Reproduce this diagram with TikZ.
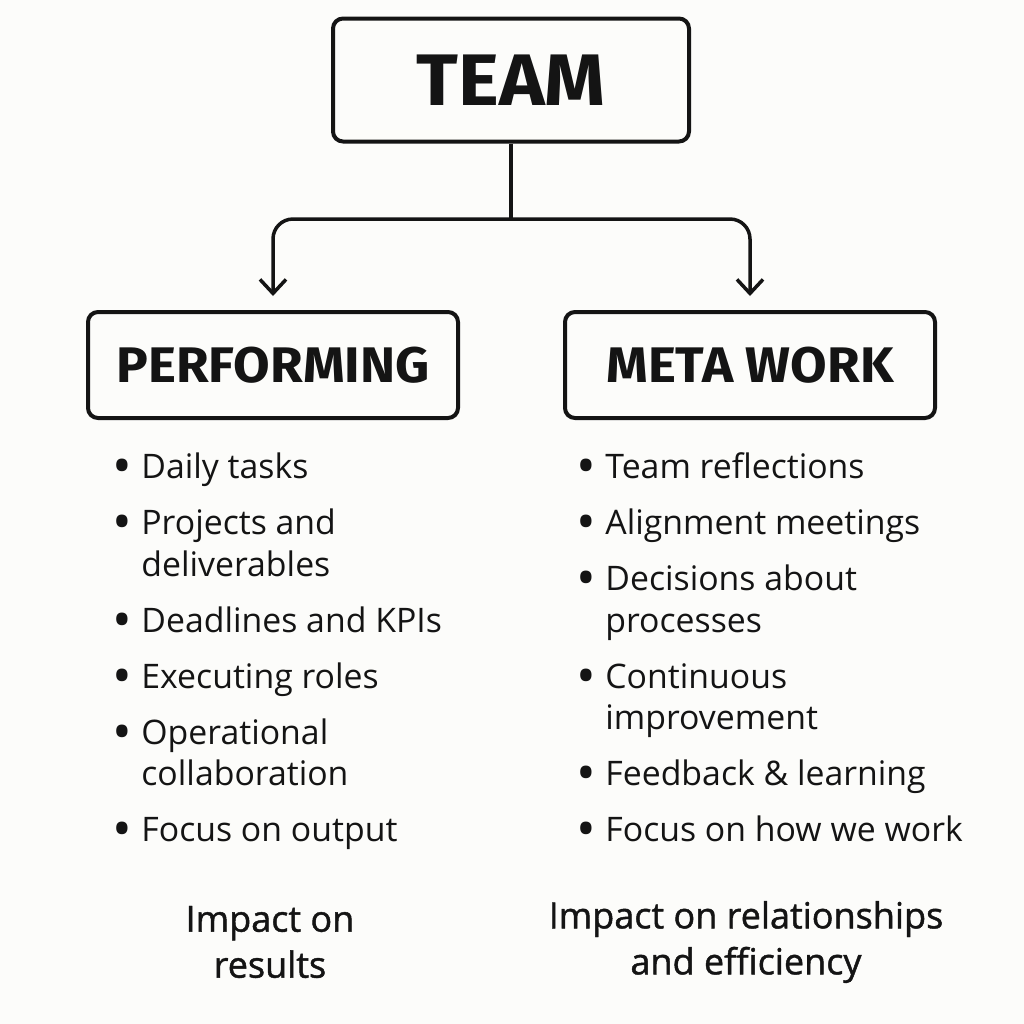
\documentclass[tikz,border=0pt]{standalone}
\usepackage{fontspec}
\setmainfont{Open Sans}
\newfontfamily\headfont[FakeStretch=1.06]{Fira Sans}
\newfontfamily\impactfont[FakeBold=1.2]{Open Sans}
\usepackage{tikz}
\usetikzlibrary{arrows.meta}
\definecolor{ink}{HTML}{141414}
\definecolor{paper}{HTML}{FCFCFA}
\newcommand{\bl}{\makebox[14.5pt][l]{\raisebox{-0.2em}{\scalebox{1.55}{\textbullet}}}}
\tikzstyle{heading} = [rectangle, rounded corners=5pt, line width=2pt, draw=ink, text=ink, minimum width=185pt, minimum height=53pt, text centered, font=\headfont\bfseries\fontsize{25}{30}\selectfont]
\tikzstyle{entry} = [anchor=base west, inner sep=0pt, text=ink, font=\fontsize{16.9}{20}\selectfont]
\tikzstyle{impact} = [align=center, inner sep=0pt, text=ink, font=\impactfont\fontsize{18}{23}\selectfont]
\tikzstyle{link} = [line width=1.75pt, draw=ink]
\tikzstyle{arrow} = [link, ->, >={Straight Barb[length=7pt,width=13pt]}, rounded corners=10pt, shorten >=7pt]

\begin{document}
\begin{tikzpicture}[x=0.5pt, y=-0.5pt]
		\fill [paper] (0,0) rectangle (1024,1024);
		\useasboundingbox (0,0) rectangle (1024,1024);
		\node (team) [heading, minimum width=178pt, minimum height=61.5pt, font=\headfont\bfseries\fontsize{36.5}{44}\selectfont] at (511,80) {TEAM};
		\node (perf) [heading] at (273,365) {PERFORMING};
		\node (meta) [heading] at (750,365) {META WORK};
		\coordinate (split) at (511,219);
		\draw [link] (team) -- (split);
		\draw [arrow] (split) -| (perf);
		\draw [arrow] (split) -| (meta);
		% performing side
		\node (p1) [entry] at (112,478) {\bl Daily tasks};
		\node (p2) [entry] at (112,534) {\bl Projects and};
		\node (p2b) [entry] at (141,576) {deliverables};
		\node (p3) [entry] at (112,632) {\bl Deadlines and KPIs};
		\node (p4) [entry] at (112,688) {\bl Executing roles};
		\node (p5) [entry] at (112,744) {\bl Operational};
		\node (p5b) [entry] at (141,785) {collaboration};
		\node (p6) [entry] at (112,841) {\bl Focus on output};
		% meta work side
		\node (m1) [entry] at (576,478) {\bl Team reflections};
		\node (m2) [entry] at (576,534) {\bl Alignment meetings};
		\node (m3) [entry] at (576,590) {\bl Decisions about};
		\node (m3b) [entry] at (605,632) {processes};
		\node (m4) [entry] at (576,688) {\bl Continuous};
		\node (m4b) [entry] at (605,729) {improvement};
		\node (m5) [entry] at (576,785) {\bl Feedback \& learning};
		\node (m6) [entry] at (576,841) {\bl Focus on how we work};
		% impact
		\node (pimp) [impact] at (270,942) {Impact on\\results};
		\node (mimp) [impact] at (746,942) {Impact on relationships\\and efficiency};
	\end{tikzpicture}
\end{document}
